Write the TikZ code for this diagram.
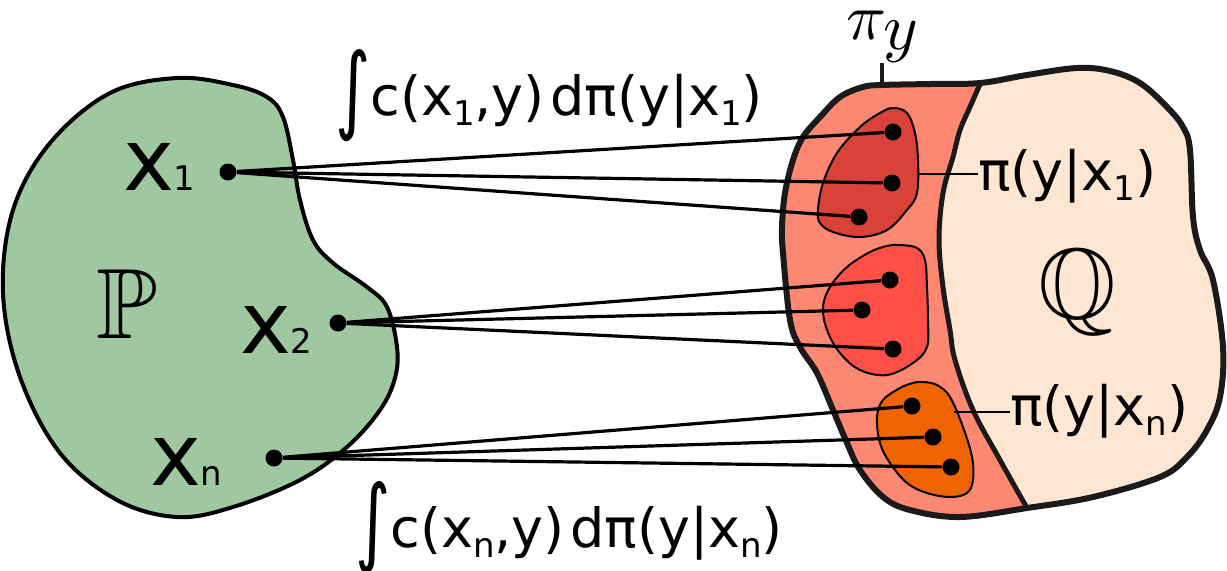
\documentclass[tikz,border=0pt]{standalone}
\usepackage{amssymb}
\usepackage{fontspec}
\setmainfont{DejaVu Sans}
\newcommand{\bigfont}{\fontsize{43}{50}\selectfont}
\newcommand{\lblfont}{\fontsize{27}{32}\selectfont}
\newcommand{\subfont}{\fontsize{17}{17}\selectfont}
\newcommand{\intsign}{\raisebox{-3pt}{\scalebox{1}[1.4]{\fontsize{34}{34}\selectfont ∫}}}
\newcommand{\lowsub}[1]{\raisebox{-5pt}{\subfont #1}}
\newcommand{\basesub}[1]{{\subfont #1}}

\begin{document}
\begin{tikzpicture}[x=0.5pt,y=-0.5pt,
  dot/.style={circle,fill=black,inner sep=0pt,minimum size=8.5pt},
  link/.style={line width=1.6pt},
  lead/.style={line width=1pt},
  lbl/.style={inner sep=0pt,outer sep=0pt}]
\definecolor{pColor}{HTML}{A0C8A0}
\definecolor{stripColor}{HTML}{FF8873}
\definecolor{qColor}{HTML}{FFE6D3}
\definecolor{oneColor}{HTML}{DA4138}
\definecolor{twoColor}{HTML}{FF5048}
\definecolor{nColor}{HTML}{F06400}
\definecolor{edgeColor}{HTML}{1A1A1A}
\path[use as bounding box] (0,0) rectangle (1227,570);

% source set
\path[fill=pColor,draw=black,line width=2pt] plot[smooth cycle,tension=0.6] coordinates {
  (177,78) (233,85) (267,97) (283,117) (293,160) (300,200) (313,240) (333,263)
  (367,287) (387,307) (397,347) (395,378) (380,410) (347,447) (300,480) (233,507)
  (177,517) (117,500) (60,453) (20,377) (3,293) (13,210) (50,143) (110,93)};

% target set
\path[fill=qColor] plot[smooth cycle,tension=0.6] coordinates {
  (980,83) (1027,75) (1077,68) (1110,71) (1140,83) (1167,107) (1183,127) (1190,150)
  (1193,217) (1200,250) (1213,280) (1223,347) (1220,397) (1207,430) (1187,457)
  (1160,477) (1093,497) (1027,508) (960,517) (910,510) (883,497) (860,470)
  (847,443) (833,410) (817,373) (800,347) (790,320) (783,253) (782,227) (785,193)
  (793,160) (803,137) (820,117) (840,97) (863,87) (882,85) (930,84)};
\begin{scope}
\clip plot[smooth cycle,tension=0.6] coordinates {
  (980,83) (1027,75) (1077,68) (1110,71) (1140,83) (1167,107) (1183,127) (1190,150)
  (1193,217) (1200,250) (1213,280) (1223,347) (1220,397) (1207,430) (1187,457)
  (1160,477) (1093,497) (1027,508) (960,517) (910,510) (883,497) (860,470)
  (847,443) (833,410) (817,373) (800,347) (790,320) (783,253) (782,227) (785,193)
  (793,160) (803,137) (820,117) (840,97) (863,87) (882,85) (930,84)};
\path[fill=stripColor] plot[smooth,tension=0.6] coordinates {
  (983,60) (980,84) (970,107) (960,130) (953,157) (943,193) (939,240) (943,287)
  (950,330) (955,360) (973,410) (1000,460) (1027,508) (1040,530)}
  -- (700,540) -- (700,50) -- cycle;
\end{scope}

\path[fill=oneColor,draw=black,line width=1pt] plot[smooth cycle,tension=0.6] coordinates {
  (893,108) (907,113) (915,133) (918,160) (917,193) (907,210) (887,230) (860,237)
  (833,232) (820,223) (818,210) (823,183) (837,153) (860,127) (880,113)};
\path[fill=twoColor,draw=black,line width=1pt] plot[smooth cycle,tension=0.6] coordinates {
  (900,245) (917,248) (925,260) (927,287) (928,320) (927,347) (913,363) (887,375)
  (860,370) (840,353) (827,330) (823,307) (830,287) (847,267) (870,252) (887,246)};
\path[fill=nColor,draw=black,line width=1pt] plot[smooth cycle,tension=0.6] coordinates {
  (923,382) (937,385) (950,397) (963,427) (972,457) (973,480) (967,493) (950,497)
  (927,493) (907,483) (890,463) (880,443) (877,417) (883,400) (900,388) (913,383)};

\draw[edgeColor,line width=2.5pt] plot[smooth,tension=0.6] coordinates {
  (980,84) (970,107) (960,130) (953,157) (943,193) (939,240) (943,287)
  (950,330) (955,360) (973,410) (1000,460) (1027,508)};
\draw[edgeColor,line width=3pt] plot[smooth cycle,tension=0.6] coordinates {
  (980,83) (1027,75) (1077,68) (1110,71) (1140,83) (1167,107) (1183,127) (1190,150)
  (1193,217) (1200,250) (1213,280) (1223,347) (1220,397) (1207,430) (1187,457)
  (1160,477) (1093,497) (1027,508) (960,517) (910,510) (883,497) (860,470)
  (847,443) (833,410) (817,373) (800,347) (790,320) (783,253) (782,227) (785,193)
  (793,160) (803,137) (820,117) (840,97) (863,87) (882,85) (930,84)};

% points
\node[dot] (x1) at (228,172) {};
\node[dot] (x2) at (338,323) {};
\node[dot] (xn) at (274,458) {};
\node[dot] (y11) at (893,132) {};
\node[dot] (y12) at (892,183) {};
\node[dot] (y13) at (859,217) {};
\node[dot] (y21) at (890,280) {};
\node[dot] (y22) at (862,310) {};
\node[dot] (y23) at (893,349) {};
\node[dot] (yn1) at (912,406) {};
\node[dot] (yn2) at (933,437) {};
\node[dot] (yn3) at (951,467) {};

\draw[link] (x1) -- (y11);
\draw[link] (x1) -- (y12);
\draw[link] (x1) -- (y13);
\draw[link] (x2) -- (y21);
\draw[link] (x2) -- (y22);
\draw[link] (x2) -- (y23);
\draw[link] (xn) -- (yn1);
\draw[link] (xn) -- (yn2);
\draw[link] (xn) -- (yn3);

% labels
\node[lbl,anchor=base west] (tx1) at (123,190) {\bigfont x\basesub{1}};
\node[lbl,anchor=base west] (tx2) at (240,353) {\bigfont x\basesub{2}};
\node[lbl,anchor=base west] (txn) at (150,485) {\bigfont x\basesub{n}};
\node[lbl,scale=5] (setp) at (127,304) {$\mathbb{P}$};
\node[lbl,scale=5] (setq) at (1077,292) {$\mathbb{Q}$};
\node[lbl,scale=3.3] (piy) at (884,37) {$\pi_{\textstyle y}$};
\node[lbl,anchor=base west] (cost1) at (335,115)
  {\lblfont\intsign c(x\lowsub{1},y)\hspace{0.1em}dπ(y|x\lowsub{1})};
\node[lbl,anchor=base west] (costn) at (355,547)
  {\lblfont\intsign c(x\lowsub{n},y)\hspace{0.1em}dπ(y|x\lowsub{n})};
\node[lbl,anchor=base west] (pi1) at (978,190) {\lblfont π(y|x\lowsub{1})};
\node[lbl,anchor=base west] (pin) at (1010,425) {\lblfont π(y|x\lowsub{n})};

\coordinate (tk) at (882,85);
\draw[edgeColor,line width=2pt] (tk) -- (tk |- piy.south);
\coordinate (b1) at (919,174);
\coordinate (bn) at (954,412);
\draw[lead] (b1) -- (b1 -| pi1.west);
\draw[lead] (bn) -- (bn -| pin.west);
\end{tikzpicture}
\end{document}
